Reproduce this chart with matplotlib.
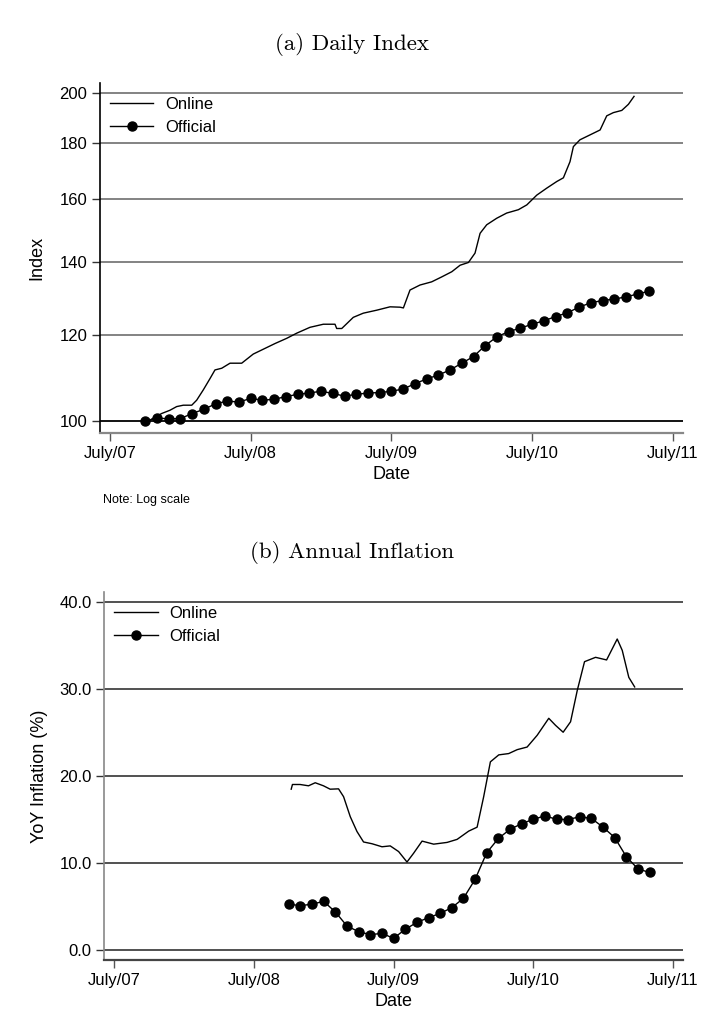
#!/usr/bin/env python3
"""Online vs official price index: daily index (log scale) and annual inflation."""
import pandas as pd
import matplotlib.pyplot as plt

plt.rcParams['font.family'] = ['Liberation Sans', 'DejaVu Sans']

# ---- data (dates as decimal years) ----
# official CPI, monthly from Oct 2007 to May 2011
official_dates = pd.date_range('2007-10-01', '2011-05-01', freq='MS')
official_index = [100.0, 100.6, 100.5, 100.5, 101.6, 102.5, 103.7, 104.3, 104.1, 104.9,
                  104.5, 104.7, 105.3, 105.8, 106.1, 106.5, 106.0, 105.4, 105.8, 106.1,
                  106.2, 106.5, 107.0, 108.2, 109.3, 110.2, 111.4, 113.0, 114.6, 117.3,
                  119.5, 120.8, 121.7, 122.7, 123.6, 124.7, 125.7, 127.2, 128.4, 129.0,
                  129.4, 130.0, 130.8, 131.6]

# online daily index
online_x = [2007.796, 2007.867, 2007.926, 2007.974, 2008.021, 2008.081, 2008.116, 2008.163,
            2008.211, 2008.246, 2008.294, 2008.353, 2008.436, 2008.518, 2008.590, 2008.673,
            2008.756, 2008.827, 2008.921, 2009.016, 2009.099, 2009.111, 2009.147, 2009.229,
            2009.300, 2009.396, 2009.490, 2009.561, 2009.585, 2009.632, 2009.703, 2009.786,
            2009.857, 2009.929, 2009.988, 2010.047, 2010.094, 2010.130, 2010.177, 2010.248,
            2010.319, 2010.402, 2010.462, 2010.533, 2010.604, 2010.675, 2010.722, 2010.769,
            2010.793, 2010.840, 2010.912, 2010.983, 2011.030, 2011.077, 2011.137, 2011.184,
            2011.224]
online_index = [100.4, 101.6, 102.3, 103.1, 103.4, 103.4, 104.5, 106.8,
                109.4, 111.4, 111.8, 113.0, 113.0, 115.2, 116.4, 117.8,
                119.1, 120.4, 121.9, 122.7, 122.7, 121.6, 121.6, 124.5,
                125.6, 126.4, 127.3, 127.2, 127.0, 131.9, 133.3, 134.2,
                135.6, 137.1, 139.0, 139.8, 142.6, 148.7, 151.4, 153.5,
                155.2, 156.3, 157.9, 161.2, 163.6, 165.9, 167.2, 173.0,
                178.6, 181.2, 183.1, 185.0, 190.6, 191.9, 192.8, 195.3,
                198.6]

# official YoY inflation (%), monthly Oct 2008 to May 2011
official_yoy_dates = pd.date_range('2008-10-01', '2011-05-01', freq='MS')
official_yoy = [5.27, 5.08, 5.27, 5.58, 4.36, 2.75, 2.10, 1.76, 1.91, 1.34,
                2.37, 3.17, 3.71, 4.20, 4.86, 5.93, 8.10, 11.16, 12.80, 13.85,
                14.50, 15.00, 15.40, 15.00, 14.98, 15.30, 15.10, 14.10, 12.90, 10.70,
                9.30, 8.90]

online_yoy_x = [2008.767, 2008.776, 2008.831, 2008.891, 2008.939, 2008.998, 2009.046, 2009.106,
                2009.142, 2009.190, 2009.238, 2009.285, 2009.345, 2009.417, 2009.476, 2009.536,
                2009.596, 2009.643, 2009.704, 2009.787, 2009.883, 2009.955, 2010.038, 2010.098,
                2010.145, 2010.193, 2010.253, 2010.324, 2010.385, 2010.456, 2010.528, 2010.611,
                2010.659, 2010.714, 2010.767, 2010.815, 2010.867, 2010.946, 2011.025, 2011.101,
                2011.137, 2011.184, 2011.226]
online_yoy = [18.46, 19.0, 19.0, 18.85, 19.2, 18.85, 18.46, 18.5,
              17.6, 15.3, 13.6, 12.4, 12.2, 11.85, 11.95, 11.3,
              10.1, 11.1, 12.5, 12.15, 12.35, 12.7, 13.65, 14.1,
              17.6, 21.6, 22.4, 22.55, 23.0, 23.3, 24.65, 26.6,
              25.8, 25.0, 26.2, 29.8, 33.1, 33.6, 33.3, 35.7,
              34.4, 31.3, 30.2]

tick_years = [2007.5, 2008.5, 2009.5, 2010.5, 2011.5]
tick_labels = ['July/07', 'July/08', 'July/09', 'July/10', 'July/11']


def decimal_year(dates):
    return dates.year + (dates.month - 1) / 12.0


def style_axes(ax, left_color, bottom_color):
    for side in ['top', 'right']:
        ax.spines[side].set_visible(False)
    ax.spines['left'].set_color(left_color)
    ax.spines['bottom'].set_color(bottom_color)
    ax.spines['left'].set_linewidth(1.2)
    ax.spines['bottom'].set_linewidth(1.6)
    ax.tick_params(axis='y', length=6, width=1, color='#333333', labelsize=12, pad=3)
    ax.tick_params(axis='x', length=6, width=1, color='#555555', labelsize=12, pad=3)
    ax.set_xticks(tick_years)
    ax.set_xticklabels(tick_labels)
    ax.set_xlim(2007.429, 2011.572)
    ax.set_xlabel('Date', fontsize=13, labelpad=4)


fig = plt.figure(figsize=(7.24, 10.32), dpi=100)

# ---- (a) Daily Index ----
ax1 = fig.add_axes([100 / 724, 1 - 433 / 1032, 583 / 724, 350 / 1032])
ax1.set_yscale('log')
ax1.set_ylim(97.5, 204.3)
yt = [100, 120, 140, 160, 180, 200]
for v in yt:
    ax1.axhline(v, color='black' if v == 100 else '#7a7a7a', lw=1.3, zorder=0)
ax1.set_yticks(yt)
ax1.set_yticklabels([str(v) for v in yt])
ax1.yaxis.set_minor_locator(plt.NullLocator())
ax1.plot(online_x, online_index, color='black', lw=1.0, label='Online')
ax1.plot(decimal_year(official_dates), official_index, color='black', lw=1.0,
         marker='o', ms=6.5, label='Official')
style_axes(ax1, 'black', '#888888')
ax1.set_ylabel('Index', fontsize=13, labelpad=10)
ax1.legend(loc='upper left', frameon=False, fontsize=12, handlelength=2.6,
           handletextpad=0.7, borderaxespad=0.2, labelspacing=0.5,
           bbox_to_anchor=(0.0, 0.99))
fig.text(352 / 724, 1 - 45 / 1032, '(a) Daily Index', family='cmr10', fontsize=16.5,
         ha='center', va='center')
fig.text(103 / 724, 1 - 500 / 1032, 'Note: Log scale', fontsize=9, va='center')

# ---- (b) Annual Inflation ----
ax2 = fig.add_axes([104.3 / 724, 1 - 960 / 1032, 578.7 / 724, 368 / 1032])
ax2.set_ylim(-1.15, 41.1)
yt2 = [0, 10, 20, 30, 40]
for v in yt2:
    ax2.axhline(v, color='#333333', lw=1.2, zorder=0)
ax2.set_yticks(yt2)
ax2.set_yticklabels([f'{v:.1f}' for v in yt2])
ax2.plot(online_yoy_x, online_yoy, color='black', lw=1.0, label='Online')
ax2.plot(decimal_year(official_yoy_dates), official_yoy, color='black', lw=1.0,
         marker='o', ms=6.5, label='Official')
style_axes(ax2, '#888888', '#444444')
ax2.set_ylabel('YoY Inflation (%)', fontsize=13, labelpad=8)
ax2.legend(loc='upper left', frameon=False, fontsize=12, handlelength=2.6,
           handletextpad=0.7, borderaxespad=0.2, labelspacing=0.5,
           bbox_to_anchor=(0.0, 0.99))
fig.text(352 / 724, 1 - 552 / 1032, '(b) Annual Inflation', family='cmr10', fontsize=16.5,
         ha='center', va='center')

fig.savefig('out.png', dpi=100)
plt.close()
